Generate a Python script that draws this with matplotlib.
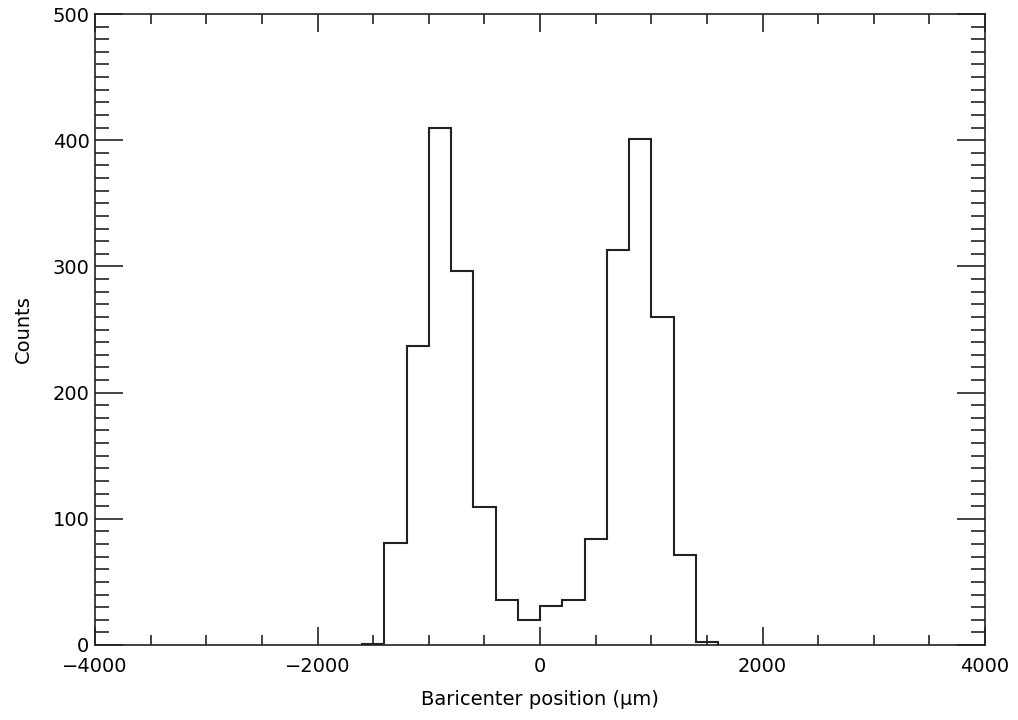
import matplotlib
matplotlib.use("Agg")
import matplotlib.pyplot as plt
from matplotlib.ticker import MultipleLocator
import numpy as np

# Data
bin_edges = [-1600, -1400, -1200, -1000, -800, -600, -400, -200, 0,
             200, 400, 600, 800, 1000, 1200, 1400, 1600]
counts = [1, 81, 237, 410, 296, 109, 36, 20, 31, 36, 84, 313, 401, 260, 71, 2]

xlabel = "Baricenter position (μm)"
ylabel = "Counts"

fig = plt.figure(figsize=(10.18, 7.2), dpi=100)
ax = fig.add_axes([95/1018, 75/720, 890/1018, 631/720])

ax.stairs(counts, bin_edges, baseline=0, fill=False, color="#222222", linewidth=1.5)

ax.set_xlim(-4000, 4000)
ax.set_ylim(0, 500)
ax.xaxis.set_major_locator(MultipleLocator(2000))
ax.xaxis.set_minor_locator(MultipleLocator(500))
ax.yaxis.set_major_locator(MultipleLocator(100))
ax.yaxis.set_minor_locator(MultipleLocator(10))

ax.tick_params(axis="both", which="both", direction="in", top=True, right=True,
               labelsize=14, color="#222222", width=1.2)
ax.tick_params(axis="x", which="major", length=13, pad=9)
ax.tick_params(axis="x", which="minor", length=7)
ax.tick_params(axis="y", which="major", length=20, pad=4)
ax.tick_params(axis="y", which="minor", length=10)

for s in ax.spines.values():
    s.set_linewidth(1.2)
    s.set_color("#222222")

ax.set_xticks([-4000, -2000, 0, 2000, 4000])
ax.set_xticklabels(["\u22124000", "\u22122000", "0", "2000", "4000"])
ax.set_yticks([0, 100, 200, 300, 400, 500])
ax.set_yticklabels(["0", "100", "200", "300", "400", "500"])

ax.set_xlabel(xlabel, fontsize=14, labelpad=10)
ax.set_ylabel(ylabel, fontsize=14, labelpad=14)

fig.savefig("out.png", dpi=100)
